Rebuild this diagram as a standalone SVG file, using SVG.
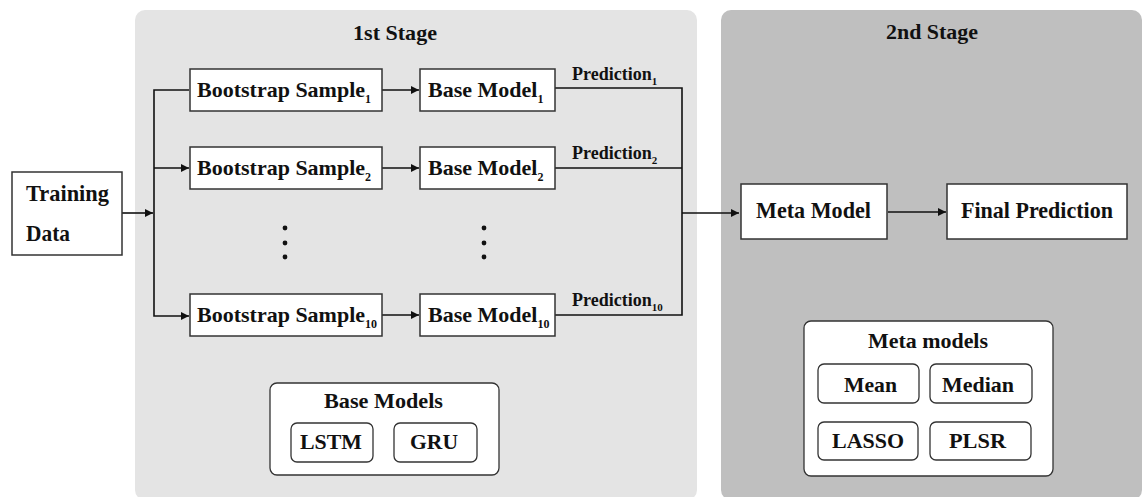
<svg xmlns="http://www.w3.org/2000/svg" width="1146" height="497" viewBox="0 0 1146 497">
<defs>
<style>
.t{font-family:"Liberation Serif","Times New Roman",serif;font-weight:bold;fill:#111;}
.m{font-size:23px;}
.b{font-size:22px;}
.s{font-size:12px;}
.p{font-size:18px;}
.ps{font-size:11px;}
.k{font-size:22px;}
.box{fill:#fff;stroke:#333;stroke-width:1.5;}
.rbox{fill:#fff;stroke:#333;stroke-width:1.3;}
.ln{fill:none;stroke:#111;stroke-width:1.6;}
.dot{fill:#111;}
</style>
<marker id="ah" viewBox="0 0 10 10" refX="10" refY="5" markerWidth="9" markerHeight="8" markerUnits="userSpaceOnUse" orient="auto">
<path d="M0,0 L10,5 L0,10 z" fill="#111"/>
</marker>
</defs>
<rect width="1146" height="497" fill="#fff"/>
<g id="stage1">
<rect x="135" y="10" width="562" height="490" rx="10" fill="#e4e4e4"/>
<text class="t k" x="353" y="40" textLength="84" lengthAdjust="spacingAndGlyphs">1st Stage</text>
</g>
<g id="stage2">
<rect x="721" y="10" width="421" height="490" rx="10" fill="#bfbfbf"/>
<text class="t k" x="886" y="39" textLength="92" lengthAdjust="spacingAndGlyphs">2nd Stage</text>
</g>
<g id="connectors">
<line class="ln" x1="122" y1="213" x2="153" y2="213" marker-end="url(#ah)"/>
<polyline class="ln" points="189,90 154,90 154,316 189,316" marker-end="url(#ah)"/>
<line class="ln" x1="154" y1="168" x2="189" y2="168" marker-end="url(#ah)"/>
<line class="ln" x1="382" y1="90" x2="419" y2="90" marker-end="url(#ah)"/>
<line class="ln" x1="382" y1="168" x2="419" y2="168" marker-end="url(#ah)"/>
<line class="ln" x1="382" y1="315" x2="419" y2="315" marker-end="url(#ah)"/>
<polyline class="ln" points="555,88 682,88 682,315 555,315"/>
<line class="ln" x1="555" y1="168" x2="682" y2="168"/>
<line class="ln" x1="682" y1="213" x2="739" y2="213" marker-end="url(#ah)"/>
<line class="ln" x1="888" y1="212" x2="946" y2="212" marker-end="url(#ah)"/>
</g>
<g id="training-data">
<rect class="box" x="12" y="172" width="110" height="83"/>
<text class="t m" x="26" y="201" textLength="83" lengthAdjust="spacingAndGlyphs">Training</text>
<text class="t m" x="26" y="241" textLength="44" lengthAdjust="spacingAndGlyphs">Data</text>
</g>
<g id="bootstrap1">
<rect class="box" x="190" y="69" width="192" height="42"/>
<text class="t b" x="197" y="97">Bootstrap Sample<tspan class="s" dy="6">1</tspan></text>
</g>
<g id="bootstrap2">
<rect class="box" x="190" y="147" width="192" height="42"/>
<text class="t b" x="197" y="175">Bootstrap Sample<tspan class="s" dy="6">2</tspan></text>
</g>
<g id="bootstrap10">
<rect class="box" x="190" y="294" width="192" height="42"/>
<text class="t b" x="197" y="322">Bootstrap Sample<tspan class="s" dy="6">10</tspan></text>
</g>
<g id="base1">
<rect class="box" x="420" y="69" width="135" height="42"/>
<text class="t b" x="428" y="97">Base Model<tspan class="s" dy="6">1</tspan></text>
</g>
<g id="base2">
<rect class="box" x="420" y="147" width="135" height="42"/>
<text class="t b" x="428" y="175">Base Model<tspan class="s" dy="6">2</tspan></text>
</g>
<g id="base10">
<rect class="box" x="420" y="294" width="135" height="42"/>
<text class="t b" x="428" y="322">Base Model<tspan class="s" dy="6">10</tspan></text>
</g>
<g id="dots">
<circle class="dot" cx="285" cy="228" r="2.4"/>
<circle class="dot" cx="285" cy="243" r="2.4"/>
<circle class="dot" cx="285" cy="257" r="2.4"/>
<circle class="dot" cx="484" cy="228" r="2.4"/>
<circle class="dot" cx="484" cy="243" r="2.4"/>
<circle class="dot" cx="484" cy="257" r="2.4"/>
</g>
<g id="pred-labels">
<text class="t p" x="572" y="80">Prediction<tspan class="ps" dy="5">1</tspan></text>
<text class="t p" x="572" y="159">Prediction<tspan class="ps" dy="5">2</tspan></text>
<text class="t p" x="572" y="306">Prediction<tspan class="ps" dy="5">10</tspan></text>
</g>
<g id="meta-model">
<rect class="box" x="741" y="184" width="146" height="55"/>
<text class="t m" x="756" y="218" textLength="115" lengthAdjust="spacingAndGlyphs">Meta Model</text>
</g>
<g id="final-prediction">
<rect class="box" x="947" y="184" width="180" height="55"/>
<text class="t m" x="961" y="218" textLength="152" lengthAdjust="spacingAndGlyphs">Final Prediction</text>
</g>
<g id="base-models">
<rect class="rbox" x="270" y="383" width="229" height="92" rx="7"/>
<text class="t k" x="324" y="408" textLength="119" lengthAdjust="spacingAndGlyphs">Base Models</text>
<rect class="rbox" x="291" y="423" width="82" height="39" rx="6"/>
<text class="t k" x="300" y="449" textLength="62" lengthAdjust="spacingAndGlyphs">LSTM</text>
<rect class="rbox" x="394" y="423" width="83" height="39" rx="6"/>
<text class="t k" x="410" y="449" textLength="48" lengthAdjust="spacingAndGlyphs">GRU</text>
</g>
<g id="meta-models">
<rect class="rbox" x="804" y="321" width="249" height="155" rx="7"/>
<text class="t k" x="868" y="348" textLength="120" lengthAdjust="spacingAndGlyphs">Meta models</text>
<rect class="rbox" x="818" y="364" width="101" height="39" rx="6"/>
<text class="t k" x="844" y="392" textLength="53" lengthAdjust="spacingAndGlyphs">Mean</text>
<rect class="rbox" x="930" y="364" width="102" height="39" rx="6"/>
<text class="t k" x="942" y="392" textLength="72" lengthAdjust="spacingAndGlyphs">Median</text>
<rect class="rbox" x="818" y="422" width="100" height="38" rx="6"/>
<text class="t k" x="832" y="448" textLength="72" lengthAdjust="spacingAndGlyphs">LASSO</text>
<rect class="rbox" x="930" y="422" width="101" height="38" rx="6"/>
<text class="t k" x="949" y="448" textLength="57" lengthAdjust="spacingAndGlyphs">PLSR</text>
</g>
</svg>
